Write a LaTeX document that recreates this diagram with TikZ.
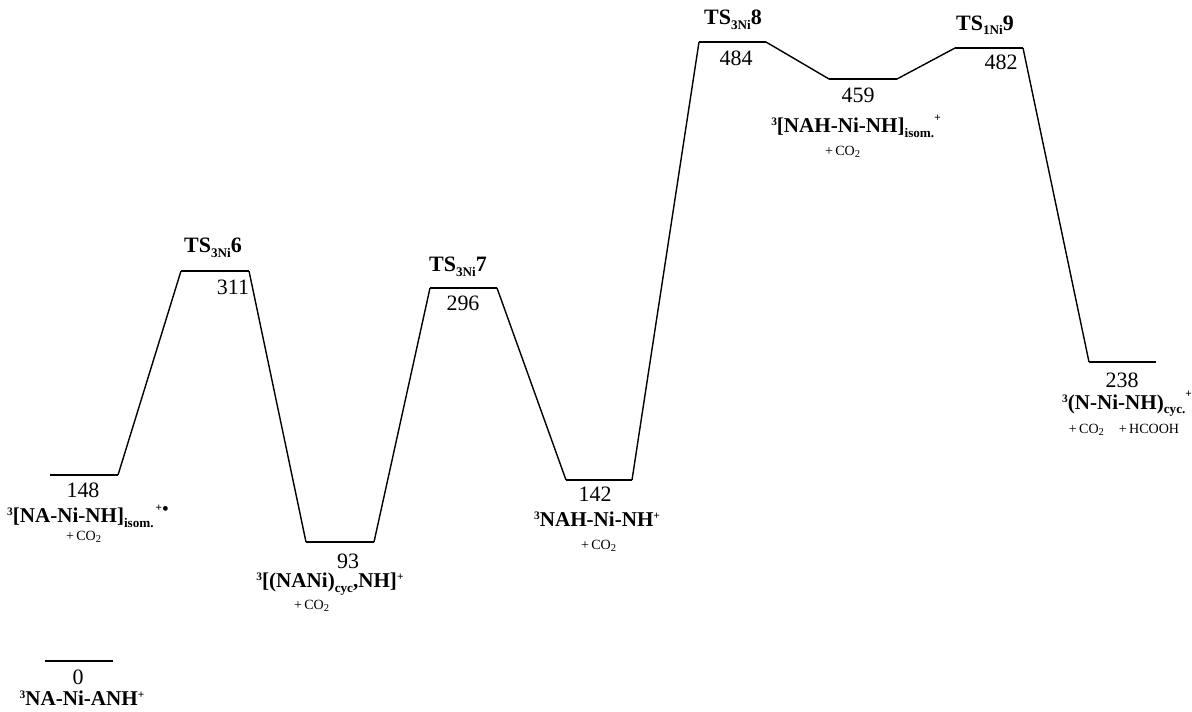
\documentclass[tikz,border=0pt]{standalone}
\usepackage{fontspec}
\setmainfont{Liberation Serif}
\newcommand{\up}[1]{\raisebox{0.75ex}{\fontsize{6.5}{7}\selectfont #1}}
\newcommand{\dn}[1]{\raisebox{-0.45ex}{\fontsize{7.5}{8}\selectfont #1}}
\begin{document}
\begin{tikzpicture}[x=0.02cm,y=-0.02cm,
  level/.style={line width=1.1pt},
  link/.style={line width=0.8pt},
  energy/.style={font=\fontsize{12.5}{14}\selectfont, inner sep=1pt},
  species/.style={font=\fontsize{12}{14}\selectfont\bfseries, inner sep=1pt},
  tslabel/.style={font=\fontsize{12.5}{14}\selectfont\bfseries, inner sep=1pt},
  extra/.style={font=\fontsize{8}{10}\selectfont, inner sep=1pt}]
\useasboundingbox (0,0) rectangle (1192,711);
% level ends
\coordinate (a0) at (45,661);   \coordinate (b0) at (113,661);
\coordinate (a148) at (50,475); \coordinate (b148) at (118,475);
\coordinate (a311) at (181,271); \coordinate (b311) at (249,271);
\coordinate (a93) at (306,542); \coordinate (b93) at (374,542);
\coordinate (a296) at (430,288); \coordinate (b296) at (497,288);
\coordinate (a142) at (566,480); \coordinate (b142) at (632,480);
\coordinate (a484) at (699,42); \coordinate (b484) at (766,42);
\coordinate (a459) at (829,79); \coordinate (b459) at (897,79);
\coordinate (a482) at (955,48); \coordinate (b482) at (1023,48);
\coordinate (a238) at (1089,362); \coordinate (b238) at (1156,362);
% levels
\draw[level] (a0) -- (b0);
\draw[level] (a148) -- (b148);
\draw[level] (a311) -- (b311);
\draw[level] (a93) -- (b93);
\draw[level] (a296) -- (b296);
\draw[level] (a142) -- (b142);
\draw[level] (a484) -- (b484);
\draw[level] (a459) -- (b459);
\draw[level] (a482) -- (b482);
\draw[level] (a238) -- (b238);
% connectors
\draw[link] (b148) -- (a311);
\draw[link] (b311) -- (a93);
\draw[link] (b93) -- (a296);
\draw[link] (b296) -- (a142);
\draw[link] (b142) -- (a484);
\draw[link] (b484) -- (a459);
\draw[link] (b459) -- (a482);
\draw[link] (b482) -- (a238);
% energies
\node[energy] (e0) at (78,677) {0};
\node[energy] (e148) at (83,490) {148};
\node[energy] (e311) at (233,287) {311};
\node[energy] (e93) at (348,561) {93};
\node[energy] (e296) at (463,303) {296};
\node[energy] (e142) at (595,494) {142};
\node[energy] (e484) at (736,58) {484};
\node[energy] (e459) at (858,95) {459};
\node[energy] (e482) at (1001,62) {482};
\node[energy] (e238) at (1122,380) {238};
% species
\node[species] (s0) at (82,698) {\up{3}NA-Ni-ANH\up{+}};
\node[species] (s148) at (88,516) {\up{3}[NA-Ni-NH]\dn{isom.}\raisebox{1.2ex}{\fontsize{6.5}{7}\selectfont\,+$\bullet$}};
\node[extra] (c148) at (84,537) {+\,CO\textsubscript{2}};
\node[tslabel] (t311) at (213,248) {TS\dn{3Ni}6};
\node[species] (s93) at (330,584) {\up{3}[(NANi)\dn{cyc},NH]\up{+}};
\node[extra] (c93) at (312,606) {+\,CO\textsubscript{2}};
\node[tslabel] (t296) at (458,267) {TS\dn{3Ni}7};
\node[species] (s142) at (597,519) {\up{3}NAH-Ni-NH\up{+}};
\node[extra] (c142) at (599,546) {+\,CO\textsubscript{2}};
\node[tslabel] (t484) at (733,20) {TS\dn{3Ni}8};
\node[species] (s459) at (856,126) {\up{3}[NAH-Ni-NH]\dn{isom.}\raisebox{1.2ex}{\fontsize{6.5}{7}\selectfont +}};
\node[extra] (c459) at (843,152) {+\,CO\textsubscript{2}};
\node[tslabel] (t482) at (985,25) {TS\dn{1Ni}9};
\node[species] (s238) at (1127,404) {\up{3}(N-Ni-NH)\dn{cyc.}\raisebox{1.2ex}{\fontsize{6.5}{7}\selectfont +}};
\node[extra] (c238) at (1124,430) {+\,CO\textsubscript{2}\quad+\,HCOOH};
\end{tikzpicture}
\end{document}
